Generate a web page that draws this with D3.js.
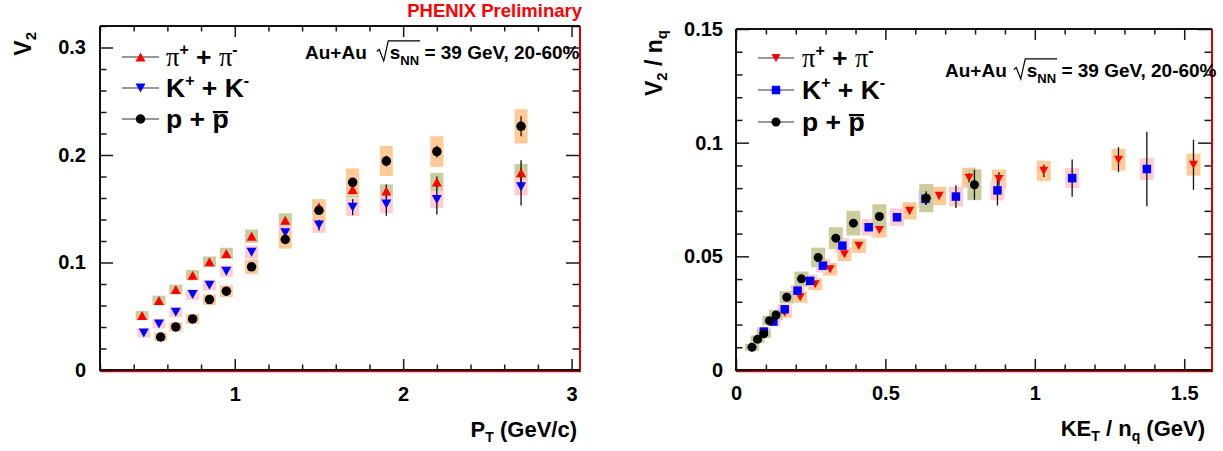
<!DOCTYPE html>
<html>
<head>
<meta charset="utf-8">
<script src="https://cdn.jsdelivr.net/npm/d3@7"></script>
<style>
  html, body { margin: 0; padding: 0; background: #fff; }
  svg { display: block; }
  text { font-family: "Liberation Sans", Arial, Helvetica, sans-serif; font-weight: bold; fill: #000; }
</style>
</head>
<body>
<svg id="chart" width="1223" height="451"></svg>
<script>
// ---------- v2 vs pT (Au+Au, 39 GeV, 20-60%) ----------
const pionPt   = [0.45, 0.55, 0.65, 0.75, 0.85, 0.95, 1.1, 1.3, 1.5, 1.7, 1.9, 2.2, 2.7];
const pionV2   = [0.0506, 0.0646, 0.0748, 0.0882, 0.1006, 0.1084, 0.1245, 0.1394, 0.1515, 0.1680, 0.1665, 0.1749, 0.1836];
const pionStat = [0.0020, 0.0020, 0.0020, 0.0020, 0.0020, 0.0020, 0.0025, 0.0030, 0.0035, 0.0040, 0.0060, 0.0050, 0.0115];
const pionSys  = [0.0042, 0.0045, 0.0045, 0.0048, 0.0050, 0.0053, 0.0062, 0.0063, 0.0068, 0.0076, 0.0062, 0.0085, 0.0080];

const kaonPt   = [0.46, 0.55, 0.65, 0.75, 0.85, 0.95, 1.1, 1.3, 1.5, 1.7, 1.9, 2.2, 2.7];
const kaonV2   = [0.0345, 0.0429, 0.0537, 0.0702, 0.0789, 0.0919, 0.1096, 0.1277, 0.1348, 0.1515, 0.1545, 0.1587, 0.1705];
const kaonStat = [0.0020, 0.0020, 0.0020, 0.0020, 0.0020, 0.0020, 0.0025, 0.0030, 0.0050, 0.0075, 0.0110, 0.0140, 0.0174];
const kaonSys  = [0.0042, 0.0042, 0.0045, 0.0048, 0.0050, 0.0053, 0.0060, 0.0068, 0.0072, 0.0082, 0.0085, 0.0082, 0.0080];

const protonPt   = [0.56, 0.65, 0.75, 0.85, 0.95, 1.1, 1.3, 1.5, 1.7, 1.9, 2.2, 2.7];
const protonV2   = [0.0307, 0.0401, 0.0475, 0.0655, 0.0733, 0.0960, 0.1214, 0.1485, 0.1746, 0.1944, 0.2032, 0.2267];
const protonStat = [0.0020, 0.0020, 0.0020, 0.0020, 0.0020, 0.0025, 0.0030, 0.0035, 0.0040, 0.0050, 0.0055, 0.0093];
const protonSys  = [0.0039, 0.0042, 0.0045, 0.0050, 0.0055, 0.0067, 0.0085, 0.0104, 0.0129, 0.0140, 0.0142, 0.0159];

// ---------- v2/nq vs KET/nq ----------
const pionKet     = [0.163, 0.215, 0.265, 0.315, 0.363, 0.411, 0.480, 0.581, 0.680, 0.780, 0.880, 1.030, 1.280, 1.531];
const pionV2nq    = [0.0252, 0.0320, 0.0377, 0.0443, 0.0509, 0.0546, 0.0616, 0.0700, 0.0766, 0.0846, 0.0840, 0.0876, 0.0925, 0.0903];
const pionStatNq  = [0.0010, 0.0010, 0.0010, 0.0010, 0.0010, 0.0010, 0.0012, 0.0015, 0.0015, 0.0020, 0.0030, 0.0027, 0.0055, 0.0110];
const pionSysNq   = [0.0022, 0.0024, 0.0026, 0.0028, 0.0030, 0.0031, 0.0034, 0.0038, 0.0040, 0.0044, 0.0042, 0.0044, 0.0048, 0.0048];

const kaonKet     = [0.093, 0.125, 0.163, 0.206, 0.248, 0.291, 0.356, 0.444, 0.539, 0.634, 0.736, 0.875, 1.125, 1.375];
const kaonV2nq    = [0.0169, 0.0213, 0.0267, 0.0349, 0.0392, 0.0459, 0.0547, 0.0628, 0.0672, 0.0753, 0.0763, 0.0790, 0.0844, 0.0884];
const kaonStatNq  = [0.0010, 0.0010, 0.0010, 0.0010, 0.0010, 0.0010, 0.0012, 0.0015, 0.0018, 0.0025, 0.0050, 0.0066, 0.0082, 0.0164];
const kaonSysNq   = [0.0018, 0.0020, 0.0022, 0.0025, 0.0027, 0.0030, 0.0033, 0.0036, 0.0038, 0.0040, 0.0043, 0.0044, 0.0044, 0.0048];

const protonKet    = [0.0535, 0.072, 0.093, 0.112, 0.134, 0.170, 0.219, 0.275, 0.334, 0.393, 0.480, 0.637, 0.798];
const protonV2nq   = [0.0100, 0.0135, 0.0159, 0.0217, 0.0242, 0.0320, 0.0401, 0.0495, 0.0580, 0.0646, 0.0675, 0.0756, 0.0815];
const protonStatNq = [0.0008, 0.0008, 0.0008, 0.0008, 0.0008, 0.0010, 0.0010, 0.0010, 0.0013, 0.0017, 0.0018, 0.0030, 0.0066];
const protonSysNq  = [0.0015, 0.0017, 0.0019, 0.0021, 0.0023, 0.0027, 0.0032, 0.0043, 0.0048, 0.0054, 0.0054, 0.0062, 0.0068];

// ---------- axis ticks ----------
const leftXTicks   = [1, 2, 3];
const leftXLabels  = ["1", "2", "3"];
const leftYTicks   = [0, 0.1, 0.2, 0.3];
const leftYLabels  = ["0", "0.1", "0.2", "0.3"];
const rightXTicks  = [0, 0.5, 1, 1.5];
const rightXLabels = ["0", "0.5", "1", "1.5"];
const rightYTicks  = [0, 0.05, 0.1, 0.15];
const rightYLabels = ["0", "0.05", "0.1", "0.15"];

const SERIF = '"Liberation Serif", "Times New Roman", serif';
const RED = "#ff0000", BLUE = "#0000ff", BLACK = "#000000";
const OLIVE = "#cbcb9e", PINK = "#ffccd0", ORANGE = "#ffca96";

const svg = d3.select("#chart");

// Text built from styled runs (sub/superscripts, symbol glyphs)
function rich(g, x, y, parts, o = {}) {
  const t = g.append("text")
    .attr("x", x).attr("y", y)
    .attr("font-size", o.size || 18)
    .attr("text-anchor", o.anchor || "start");
  if (o.transform) t.attr("transform", o.transform);
  if (o.fill) t.style("fill", o.fill);
  let cur = 0;
  parts.forEach(p => {
    const s = t.append("tspan").text(p.t);
    const shift = p.shift || 0;
    const dy = shift - cur; cur = shift;
    if (dy) s.attr("dy", dy);
    if (p.dx) s.attr("dx", p.dx);
    if (p.size) s.attr("font-size", p.size);
    if (p.family) s.style("font-family", p.family);
    if (p.weight) s.style("font-weight", p.weight);
  });
  return t;
}

// Bar over the character at index i of a text element
function overbar(g, textSel, i, y, w) {
  const n = textSel.node();
  const a = n.getStartPositionOfChar(i), b = n.getEndPositionOfChar(i);
  g.append("line").attr("x1", a.x + 0.5).attr("x2", b.x - 0.5)
    .attr("y1", y).attr("y2", y).attr("stroke", "#000").attr("stroke-width", w || 2);
}

function markerPath(kind, s) {
  if (kind === "circle") return d3.symbol(d3.symbolCircle, Math.PI * s * s / 4)();
  if (kind === "square") return `M${-s/2},${-s/2}H${s/2}V${s/2}H${-s/2}Z`;
  const h = s * 0.9;
  if (kind === "up") return `M0,${-h/2}L${s/2},${h/2}L${-s/2},${h/2}Z`;
  return `M0,${h/2}L${s/2},${-h/2}L${-s/2},${-h/2}Z`;
}

function panel(cfg) {
  const g = svg.append("g");
  const x = d3.scaleLinear().domain(cfg.xDomain).range([cfg.x0, cfg.x1]);
  const y = d3.scaleLinear().domain(cfg.yDomain).range([cfg.y1, cfg.y0]);

  // systematic boxes
  cfg.series.forEach(s => {
    g.append("g").selectAll("rect").data(s.x.map((d, i) => i)).join("rect")
      .attr("x", i => x(s.x[i]) - cfg.boxHalf)
      .attr("width", cfg.boxHalf * 2)
      .attr("y", i => y(s.y[i] + s.sys[i]))
      .attr("height", i => y(s.y[i] - s.sys[i]) - y(s.y[i] + s.sys[i]))
      .attr("fill", s.box);
  });
  // statistical error bars
  cfg.series.forEach(s => {
    g.append("g").selectAll("line").data(s.x.map((d, i) => i)).join("line")
      .attr("x1", i => x(s.x[i])).attr("x2", i => x(s.x[i]))
      .attr("y1", i => y(s.y[i] - s.stat[i])).attr("y2", i => y(s.y[i] + s.stat[i]))
      .attr("stroke", "#111").attr("stroke-width", 1.3);
  });
  // markers
  cfg.series.forEach(s => {
    g.append("g").selectAll("path").data(s.x.map((d, i) => i)).join("path")
      .attr("transform", i => `translate(${x(s.x[i])},${y(s.y[i])})`)
      .attr("d", markerPath(s.marker, s.size))
      .attr("fill", s.color);
  });

  // frame
  g.append("line").attr("x1", cfg.x1).attr("x2", cfg.x1).attr("y1", cfg.y0).attr("y2", cfg.y1 + 1)
    .attr("stroke", "#e00000").attr("stroke-width", 2);
  g.append("line").attr("x1", cfg.x0).attr("x2", cfg.x1 + 1).attr("y1", cfg.y1 + 1.5).attr("y2", cfg.y1 + 1.5)
    .attr("stroke", "#e00000").attr("stroke-width", 1.5);

  const styleAxis = sel => {
    sel.attr("font-size", cfg.tickFont).attr("font-family", null);
    sel.select(".domain").remove();
    sel.selectAll("line").attr("stroke", "#1a1a1a").attr("stroke-width", 1.5);
  };
  const minorX = d3.range(cfg.xMinorStart, cfg.xDomain[1] + 1e-9, cfg.xMinorStep)
    .map(v => +v.toFixed(4)).filter(v => !cfg.xTicks.some(t => Math.abs(t - v) < 1e-6));
  const minorY = d3.range(cfg.yDomain[0], cfg.yDomain[1] + 1e-9, cfg.yMinorStep)
    .map(v => +v.toFixed(4)).filter(v => !cfg.yTicks.some(t => Math.abs(t - v) < 1e-6));

  // bottom
  g.append("g").attr("transform", `translate(0,${cfg.y1})`)
    .call(d3.axisBottom(x).tickValues(cfg.xTicks).tickFormat((d, i) => cfg.xLabels[i]).tickSize(-11).tickPadding(cfg.xPad).tickSizeOuter(0))
    .call(styleAxis);
  g.append("g").attr("transform", `translate(0,${cfg.y1})`)
    .call(d3.axisBottom(x).tickValues(minorX).tickFormat("").tickSize(-5.5).tickSizeOuter(0)).call(styleAxis);
  // top
  g.append("g").attr("transform", `translate(0,${cfg.y0})`)
    .call(d3.axisTop(x).tickValues(cfg.xTicks).tickFormat("").tickSize(-11).tickSizeOuter(0)).call(styleAxis);
  g.append("g").attr("transform", `translate(0,${cfg.y0})`)
    .call(d3.axisTop(x).tickValues(minorX).tickFormat("").tickSize(-5.5).tickSizeOuter(0)).call(styleAxis);
  // left
  g.append("g").attr("transform", `translate(${cfg.x0},0)`)
    .call(d3.axisLeft(y).tickValues(cfg.yTicks).tickFormat((d, i) => cfg.yLabels[i]).tickSize(-13).tickPadding(cfg.yPad).tickSizeOuter(0))
    .call(styleAxis);
  g.append("g").attr("transform", `translate(${cfg.x0},0)`)
    .call(d3.axisLeft(y).tickValues(minorY).tickFormat("").tickSize(-6.5).tickSizeOuter(0)).call(styleAxis);
  // right
  g.append("g").attr("transform", `translate(${cfg.x1 - 1},0)`)
    .call(d3.axisRight(y).tickValues(cfg.yTicks).tickFormat("").tickSize(-13).tickSizeOuter(0)).call(styleAxis);
  g.append("g").attr("transform", `translate(${cfg.x1 - 1},0)`)
    .call(d3.axisRight(y).tickValues(minorY).tickFormat("").tickSize(-6.5).tickSizeOuter(0)).call(styleAxis);

  // axis lines
  const ax = g.append("g").attr("stroke", "#111").attr("stroke-width", 2);
  ax.append("line").attr("x1", cfg.x0).attr("x2", cfg.x0).attr("y1", cfg.y0).attr("y2", cfg.y1 + 1);
  ax.append("line").attr("x1", cfg.x0).attr("x2", cfg.x1).attr("y1", cfg.y1).attr("y2", cfg.y1);
  ax.append("line").attr("x1", cfg.x0).attr("x2", cfg.x1).attr("y1", cfg.y0).attr("y2", cfg.y0);

  // legend
  cfg.series.forEach((s, k) => {
    const ry = cfg.legend.y[k];
    g.append("line").attr("x1", cfg.legend.x0).attr("x2", cfg.legend.x1).attr("y1", ry).attr("y2", ry)
      .attr("stroke", "#333").attr("stroke-width", 1.2);
    g.append("path").attr("transform", `translate(${(cfg.legend.x0 + cfg.legend.x1) / 2},${ry})`)
      .attr("d", markerPath(s.marker, s.size)).attr("fill", s.color);
    const fs = cfg.legend.size, sup = Math.round(fs * 0.62), up = -Math.round(fs * 0.42);
    const baseY = ry + fs * 0.34;
    let parts;
    if (s.name === "pion") parts = [
      { t: "π", family: SERIF, weight: "normal" }, { t: "+", size: sup, shift: up },
      { t: " + " }, { t: "π", family: SERIF, weight: "normal" }, { t: "-", size: sup, shift: up }];
    else if (s.name === "kaon") parts = [
      { t: "K" }, { t: "+", size: sup, shift: up }, { t: " + " }, { t: "K" }, { t: "-", size: sup, shift: up }];
    else parts = [{ t: "p + " }, { t: "p" }];
    const t = rich(g, cfg.legend.tx, baseY, parts, { size: fs });
    if (s.name === "proton") overbar(g, t, 4, baseY - fs * 0.6, 2.2);
  });

  return { g, x, y };
}

// Au+Au √sNN annotation with a drawn radical
function energyLabel(g, x0, base, size, gap, tail) {
  const sub = Math.round(size * 0.66);
  const t = rich(g, x0, base, [
    { t: "Au+Au" },
    { t: "s", dx: gap },
    { t: "NN", size: sub, shift: size * 0.3 },
    { t: tail }
  ], { size });
  const n = t.node();
  const sx = n.getStartPositionOfChar(5).x;
  const ex = n.getEndPositionOfChar(7).x;
  const top = base - size * 0.95;
  g.append("path")
    .attr("d", `M${sx - 13},${base - size * 0.4}L${sx - 10.5},${base - size * 0.5}L${sx - 6},${base + 2}L${sx - 1.5},${top}L${ex + 1},${top}`)
    .attr("fill", "none").attr("stroke", "#000").attr("stroke-width", 1.2);
}

// ---------- left panel: v2 vs pT ----------
const left = panel({
  x0: 100, x1: 580, y0: 26, y1: 370,
  xDomain: [0.2, 3.05], yDomain: [0, 0.32],
  xTicks: leftXTicks, xLabels: leftXLabels, yTicks: leftYTicks, yLabels: leftYLabels,
  xMinorStart: 0.2, xMinorStep: 0.2, yMinorStep: 0.02,
  xPad: 17, yPad: 14, boxHalf: 6.5, tickFont: 20,
  series: [
    { name: "pion",   x: pionPt,   y: pionV2,   stat: pionStat,   sys: pionSys,   color: RED,   box: OLIVE,  marker: "up",     size: 10 },
    { name: "kaon",   x: kaonPt,   y: kaonV2,   stat: kaonStat,   sys: kaonSys,   color: BLUE,  box: PINK,   marker: "down",   size: 10 },
    { name: "proton", x: protonPt, y: protonV2, stat: protonStat, sys: protonSys, color: BLACK, box: ORANGE, marker: "circle", size: 9.5 }
  ],
  legend: { x0: 122, x1: 159, tx: 166, y: [57, 88, 119], size: 26.5 }
});

// ---------- right panel: v2/nq vs KET/nq ----------
const right = panel({
  x0: 736, x1: 1212, y0: 29, y1: 370,
  xDomain: [0, 1.593], yDomain: [0, 0.15],
  xTicks: rightXTicks, xLabels: rightXLabels, yTicks: rightYTicks, yLabels: rightYLabels,
  xMinorStart: 0, xMinorStep: 0.1, yMinorStep: 0.01,
  xPad: 16, yPad: 13, boxHalf: 7, tickFont: 20,
  series: [
    { name: "pion",   x: pionKet,   y: pionV2nq,   stat: pionStatNq,   sys: pionSysNq,   color: RED,   box: ORANGE, marker: "down",   size: 9 },
    { name: "kaon",   x: kaonKet,   y: kaonV2nq,   stat: kaonStatNq,   sys: kaonSysNq,   color: BLUE,  box: PINK,   marker: "square", size: 8.5 },
    { name: "proton", x: protonKet, y: protonV2nq, stat: protonStatNq, sys: protonSysNq, color: BLACK, box: OLIVE,  marker: "circle", size: 9 }
  ],
  legend: { x0: 758, x1: 794, tx: 802, y: [58, 90, 122], size: 26.5 }
});

// ---------- titles and annotations ----------
rich(svg, 582, 17, [{ t: "PHENIX Preliminary" }], { size: 18.5, anchor: "end", fill: "#ff0000" });

energyLabel(left.g, 305, 59, 19, 23, " = 39 GeV,  20-60%");
energyLabel(right.g, 945, 77, 19, 20, " = 39 GeV, 20-60%");

// axis titles
rich(svg, 0, 0, [{ t: "V" }, { t: "2", size: 15, shift: 5 }],
  { size: 23, anchor: "end", transform: "translate(31,32) rotate(-90)" });
rich(svg, 0, 0, [{ t: "V" }, { t: "2", size: 15, shift: 5 }, { t: " / n" }, { t: "q", size: 15, shift: 5 }],
  { size: 23, anchor: "end", transform: "translate(662,30) rotate(-90)" });

rich(svg, 577, 437, [{ t: "P" }, { t: "T", size: 14, shift: 5 }, { t: " (GeV/c)" }], { size: 22, anchor: "end" });
rich(svg, 1205, 436, [{ t: "KE" }, { t: "T", size: 14, shift: 5 }, { t: " / n" }, { t: "q", size: 14, shift: 5 }, { t: " (GeV)" }], { size: 22, anchor: "end" });
</script>
</body>
</html>
